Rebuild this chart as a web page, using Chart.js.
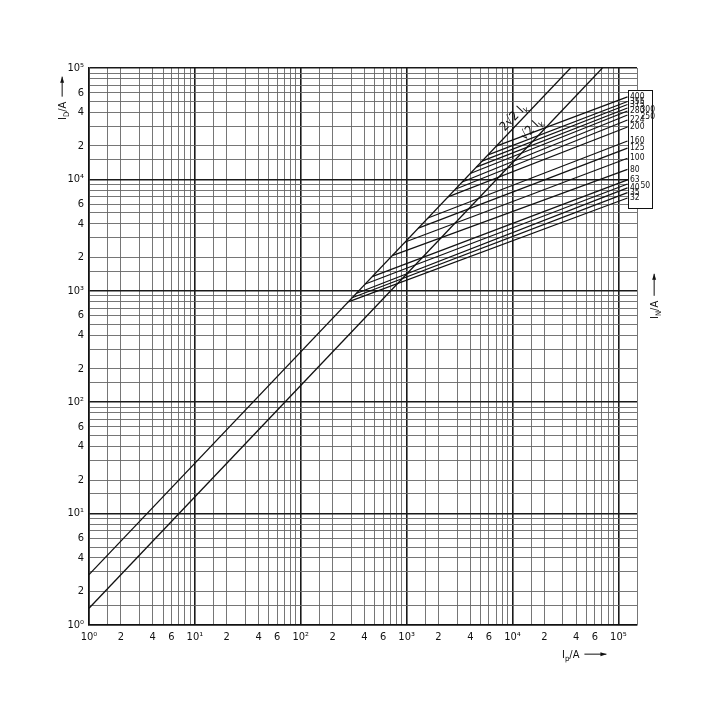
<!DOCTYPE html>
<html>
<head>
<meta charset="utf-8">
<script src="https://cdn.jsdelivr.net/npm/chart.js@4.4.1/dist/chart.umd.min.js"></script>
<style>
  html, body { margin: 0; background: #fff; }
  canvas { display: block; }
</style>
</head>
<body>
<canvas id="chart" width="720" height="720"></canvas>
<script>
// ===== DATA =====
// fuse ratings I_N (A), each curve starts on the 2*sqrt2*Ik line and runs to the label box
const fuseRatings = ['32', '35', '40', '50', '63', '80', '100', '125', '160', '200', '224', '250', '280', '300', '315', '355', '400'];
const fuseStartIp = [281, 306, 334, 407, 473, 731, 970, 1290, 1590, 2460, 2880, 3350, 3990, 4550, 5150, 5880, 7030];
const fuseStartId = [795, 866, 945, 1150, 1340, 2070, 2740, 3650, 4500, 6960, 8150, 9480, 11300, 12900, 14600, 16600, 19900];
const fuseEndIp = [122000, 122000, 122000, 122000, 122000, 122000, 122000, 122000, 122000, 122000, 122000, 122000, 122000, 122000, 122000, 122000, 122000];
const fuseEndId = [6800, 7600, 8400, 9100, 9900, 12300, 15500, 19100, 22100, 29500, 34100, 37800, 41100, 43700, 47000, 50000, 55000];
const rightColumn = ['300', '250', '50'];

// the two straight reference lines
const refNames = ['2√2', '√2'];
const refIp = [[1, 35355], [1, 70711]];
const refId = [[2.83, 100000], [1.414, 100000]];

// axes
const gridMantissas = [1, 1.5, 2, 3, 4, 5, 6, 7, 8, 9];
const labelMantissas = { 2: '2', 4: '4', 6: '6' };
const decadeLabels = ['10⁰', '10¹', '10²', '10³', '10⁴', '10⁵'];
const xMax = 150000;
const yMax = 100000;

const FONT = "'Liberation Sans Narrow', 'DejaVu Sans Condensed', sans-serif";

// ===== HELPERS =====
function buildTicks(max) {
    const out = [];
    for (let d = 0; d <= 5; d++) {
        gridMantissas.forEach(m => {
            const v = m * Math.pow(10, d);
            if (v <= max * 1.0001) out.push({ value: v });
        });
    }
    return out;
}

function decadeOf(v) {
    const e = Math.log10(v);
    return Math.abs(e - Math.round(e)) < 1e-6 ? Math.round(e) : null;
}

function tickLabel(v) {
    const d = decadeOf(v);
    if (d !== null) return decadeLabels[d];
    const m = Math.round(v / Math.pow(10, Math.floor(Math.log10(v) + 1e-9)) * 10) / 10;
    return labelMantissas[m] || '';
}

function gridColor(ctx) {
    return ctx.tick && decadeOf(ctx.tick.value) !== null ? '#1a1a1a' : '#666';
}

function gridWidth(ctx) {
    return ctx.tick && decadeOf(ctx.tick.value) !== null ? 1.6 : 0.9;
}

// draws text pieces like I + sub D + /A, then optional arrow
function drawRich(ctx, pieces, x, y, size, arrow) {
    let cx = x;
    pieces.forEach(p => {
        const s = p.sub ? size * 0.7 : size;
        ctx.font = s + 'px ' + FONT;
        ctx.fillText(p.t, cx, p.sub ? y + size * 0.3 : y);
        cx += ctx.measureText(p.t).width;
    });
    if (arrow) {
        const a0 = cx + 5, a1 = a0 + arrow;
        const ay = y - size * 0.35;
        ctx.beginPath();
        ctx.moveTo(a0, ay);
        ctx.lineTo(a1, ay);
        ctx.stroke();
        ctx.beginPath();
        ctx.moveTo(a1, ay);
        ctx.lineTo(a1 - 6, ay - 2);
        ctx.lineTo(a1 - 6, ay + 2);
        ctx.closePath();
        ctx.fill();
    }
    return cx - x;
}

function richWidth(ctx, pieces, size) {
    let w = 0;
    pieces.forEach(p => {
        ctx.font = (p.sub ? size * 0.7 : size) + 'px ' + FONT;
        w += ctx.measureText(p.t).width;
    });
    return w;
}

// ===== DATASETS =====
const datasets = [];
refIp.forEach((xs, i) => {
    datasets.push({
        label: refNames[i],
        data: xs.map((x, j) => ({ x: x, y: refId[i][j] })),
        showLine: true, borderColor: '#111', borderWidth: 1.3, pointRadius: 0
    });
});
fuseRatings.forEach((r, i) => {
    datasets.push({
        label: r,
        data: [{ x: fuseStartIp[i], y: fuseStartId[i] }, { x: fuseEndIp[i], y: fuseEndId[i] }],
        showLine: true, borderColor: '#111', borderWidth: 1.2, pointRadius: 0
    });
});

// ===== DECORATION PLUGIN =====
const decor = {
    id: 'decor',
    afterDraw(chart) {
        const ctx = chart.ctx;
        const xs = chart.scales.x, ys = chart.scales.y;
        ctx.save();
        ctx.fillStyle = '#111';
        ctx.strokeStyle = '#111';
        ctx.lineWidth = 1;
        ctx.textBaseline = 'alphabetic';

        // label box on the right
        const bx = Math.round(xs.getPixelForValue(fuseEndIp[0])) + 0.5;
        ctx.strokeRect(bx, 90.5, 24, 118);
        ctx.fillStyle = '#fff';
        ctx.fillRect(bx + 0.5, 91, 23, 117);
        ctx.fillStyle = '#111';
        ctx.font = '8.5px ' + FONT;
        ctx.textBaseline = 'middle';
        fuseRatings.forEach((r, i) => {
            const y = ys.getPixelForValue(fuseEndId[i]);
            const right = rightColumn.includes(r);
            ctx.fillText(r, bx + (right ? 12 : 1.5), y + (right ? 2 : 0));
        });

        // labels along the two reference lines
        ctx.textBaseline = 'alphabetic';
        const labelAt = [11500, 17500];
        const offs = [-4, -6];
        const texts = [
            [{ t: '2√2 I' }, { t: 'k', sub: true }],
            [{ t: '√2 I' }, { t: 'k', sub: true }]
        ];
        refIp.forEach((xsr, i) => {
            const p0x = xs.getPixelForValue(xsr[0]), p0y = ys.getPixelForValue(refId[i][0]);
            const p1x = xs.getPixelForValue(xsr[1]), p1y = ys.getPixelForValue(refId[i][1]);
            const ang = Math.atan2(p1y - p0y, p1x - p0x);
            const lx = xs.getPixelForValue(labelAt[i]);
            const ly = p0y + (lx - p0x) * Math.tan(ang);
            ctx.save();
            ctx.translate(lx, ly);
            ctx.rotate(ang);
            const w = richWidth(ctx, texts[i], 12.5);
            drawRich(ctx, texts[i], -w / 2, offs[i], 12.5, 0);
            ctx.restore();
        });

        // axis titles
        const yTitle = [{ t: 'I' }, { t: 'D', sub: true }, { t: '/A' }];
        ctx.save();
        ctx.translate(66, 120);
        ctx.rotate(-Math.PI / 2);
        drawRich(ctx, yTitle, 0, 0, 11, 20);
        ctx.restore();

        const nTitle = [{ t: 'I' }, { t: 'N', sub: true }, { t: '/A' }];
        ctx.save();
        ctx.translate(658, 319);
        ctx.rotate(-Math.PI / 2);
        drawRich(ctx, nTitle, 0, 0, 11, 22);
        ctx.restore();

        const xTitle = [{ t: 'I' }, { t: 'p', sub: true }, { t: '/A' }];
        drawRich(ctx, xTitle, 562, 658, 11, 22);

        ctx.restore();
    }
};

// ===== CHART =====
new Chart(document.getElementById('chart'), {
    type: 'scatter',
    data: { datasets: datasets },
    plugins: [decor],
    options: {
        responsive: false,
        animation: false,
        layout: { padding: { top: 68, right: 83, left: 0, bottom: 0 } },
        plugins: { legend: { display: false }, tooltip: { enabled: false } },
        scales: {
            x: {
                type: 'logarithmic',
                min: 1,
                max: xMax,
                afterBuildTicks: s => { s.ticks = buildTicks(xMax); },
                afterFit: s => { s.height = 95; },
                grid: { color: gridColor, lineWidth: gridWidth, drawTicks: false },
                border: { display: true, color: '#111', width: 1.5 },
                ticks: {
                    autoSkip: false, maxRotation: 0, padding: 6,
                    color: '#111', font: { family: FONT, size: 11 },
                    callback: v => tickLabel(v)
                }
            },
            y: {
                type: 'logarithmic',
                min: 1,
                max: yMax,
                afterBuildTicks: s => { s.ticks = buildTicks(yMax); },
                afterFit: s => { s.width = 89; },
                grid: { color: gridColor, lineWidth: gridWidth, drawTicks: false },
                border: { display: true, color: '#111', width: 1.5 },
                ticks: {
                    autoSkip: false, padding: 5,
                    color: '#111', font: { family: FONT, size: 11 },
                    callback: v => tickLabel(v)
                }
            }
        }
    }
});
</script>
</body>
</html>
